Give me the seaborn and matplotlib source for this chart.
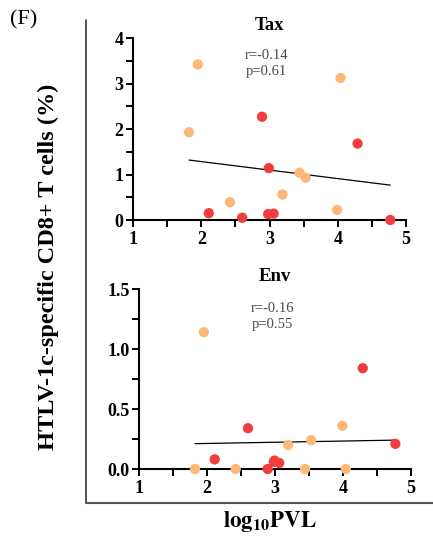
import numpy as np
import pandas as pd
import matplotlib
matplotlib.use("Agg")
import matplotlib.pyplot as plt
from matplotlib.lines import Line2D
from matplotlib.ticker import MultipleLocator, FixedLocator, FixedFormatter
import seaborn as sns

# ---- data ----
groups = ["A"] * 8 + ["B"] * 8
log10_pvl = [1.95, 1.82, 4.04, 3.44, 3.53, 3.19, 2.42, 3.99,
             2.89, 4.29, 2.99, 2.11, 2.60, 2.98, 3.06, 4.77]
tax_pct = [3.42, 1.93, 3.12, 1.04, 0.93, 0.56, 0.39, 0.22,
           2.27, 1.68, 1.14, 0.15, 0.05, 0.13, 0.14, 0.00]
env_pct = [1.14, 0.00, 0.00, 0.00, 0.24, 0.20, 0.00, 0.36,
           0.00, 0.84, 0.07, 0.08, 0.34, 0.06, 0.05, 0.21]
x_ticks = [1, 2, 3, 4, 5]
x_ticklabels = ["1", "2", "3", "4", "5"]
tax_ticks = [0, 1, 2, 3, 4]
tax_ticklabels = ["0", "1", "2", "3", "4"]
env_ticks = [0, 0.5, 1.0, 1.5]
env_ticklabels = ["0.0", "0.5", "1.0", "1.5"]
stats_tax = "r=-0.14\np=0.61"
stats_env = "r=-0.16\np=0.55"

df = pd.DataFrame({"pvl": log10_pvl, "Tax": tax_pct, "Env": env_pct, "group": groups})
palette = {"A": "#FDB878", "B": "#F23D3D"}

sns.set_theme(style="ticks")
plt.rcParams["font.family"] = ["Liberation Serif", "DejaVu Serif"]
plt.rcParams["mathtext.fontset"] = "stix"
for k in ["text.color", "axes.labelcolor", "xtick.color", "ytick.color",
          "xtick.labelcolor", "ytick.labelcolor"]:
    plt.rcParams[k] = "black"

fig = plt.figure(figsize=(4.33, 5.37), dpi=100)
ax1 = fig.add_axes([0.3072, 0.5903, 0.6305, 0.3389])
ax2 = fig.add_axes([0.3217, 0.1266, 0.6275, 0.3352])

def panel(ax, col, title, ylim, ymajor, yminor, ylabels, stats, stats_y):
    sns.scatterplot(data=df, x="pvl", y=col, hue="group", palette=palette,
                    s=55, linewidth=0, legend=False, ax=ax, clip_on=False, zorder=3)
    sns.regplot(data=df, x="pvl", y=col, scatter=False, ci=None, ax=ax,
                line_kws=dict(color="black", lw=0.9), truncate=True)
    ax.set_xlim(1, 5)
    ax.set_ylim(*ylim)
    ax.xaxis.set_major_locator(FixedLocator(x_ticks))
    ax.xaxis.set_major_formatter(FixedFormatter(x_ticklabels))
    ax.xaxis.set_minor_locator(MultipleLocator(0.5))
    ax.yaxis.set_major_locator(FixedLocator(ymajor))
    ax.yaxis.set_major_formatter(FixedFormatter(ylabels))
    ax.yaxis.set_minor_locator(MultipleLocator(yminor))
    ax.tick_params(which="both", direction="out", width=1.4, color="black",
                   labelsize=13, labelcolor="black")
    ax.tick_params(axis="x", which="both", pad=3)
    ax.tick_params(axis="y", which="both", pad=2)
    ax.tick_params(which="major", length=5)
    ax.tick_params(which="minor", length=5)
    for sp in ["left", "bottom"]:
        ax.spines[sp].set_linewidth(1.5)
        ax.spines[sp].set_color("black")
    sns.despine(ax=ax)
    ax.set_xlabel("")
    ax.set_ylabel("")
    ax.set_title(title, fontsize=13.5, fontweight="bold", pad=6, color="black")
    ax.text(0.49, stats_y, stats, transform=ax.transAxes, ha="center", va="top",
            fontsize=10.5, color="#4a4a4a", linespacing=1.3)

panel(ax1, "Tax", "Tax", (0, 4), tax_ticks, 0.5, tax_ticklabels, stats_tax, 0.94)
panel(ax2, "Env", "Env", (0, 1.5), env_ticks, 0.25, env_ticklabels, stats_env, 0.93)

for ax in (ax1, ax2):
    for lab in ax.get_xticklabels() + ax.get_yticklabels():
        lab.set_fontweight("bold")

# outer frame
fig.add_artist(Line2D([86 / 433, 86 / 433], [1 - 20 / 537, 1 - 503 / 537],
                      transform=fig.transFigure, color="#333333", lw=1.2))
fig.add_artist(Line2D([86 / 433, 1.0], [1 - 503 / 537, 1 - 503 / 537],
                      transform=fig.transFigure, color="#555555", lw=1.5))

fig.text(48 / 433, 1 - 267 / 537, "HTLV-1c-specific CD8+ T cells (%)", rotation=90,
         ha="center", va="center", fontsize=17.5, fontweight="bold")
fig.text(270 / 433, 1 - 522 / 537, r"$\mathbf{log_{10}PVL}$", ha="center", va="center",
         fontsize=16.5)
fig.text(10 / 433, 1 - 20 / 537, "(F)", ha="left", va="center", fontsize=16)

fig.savefig("out.png", dpi=100)
